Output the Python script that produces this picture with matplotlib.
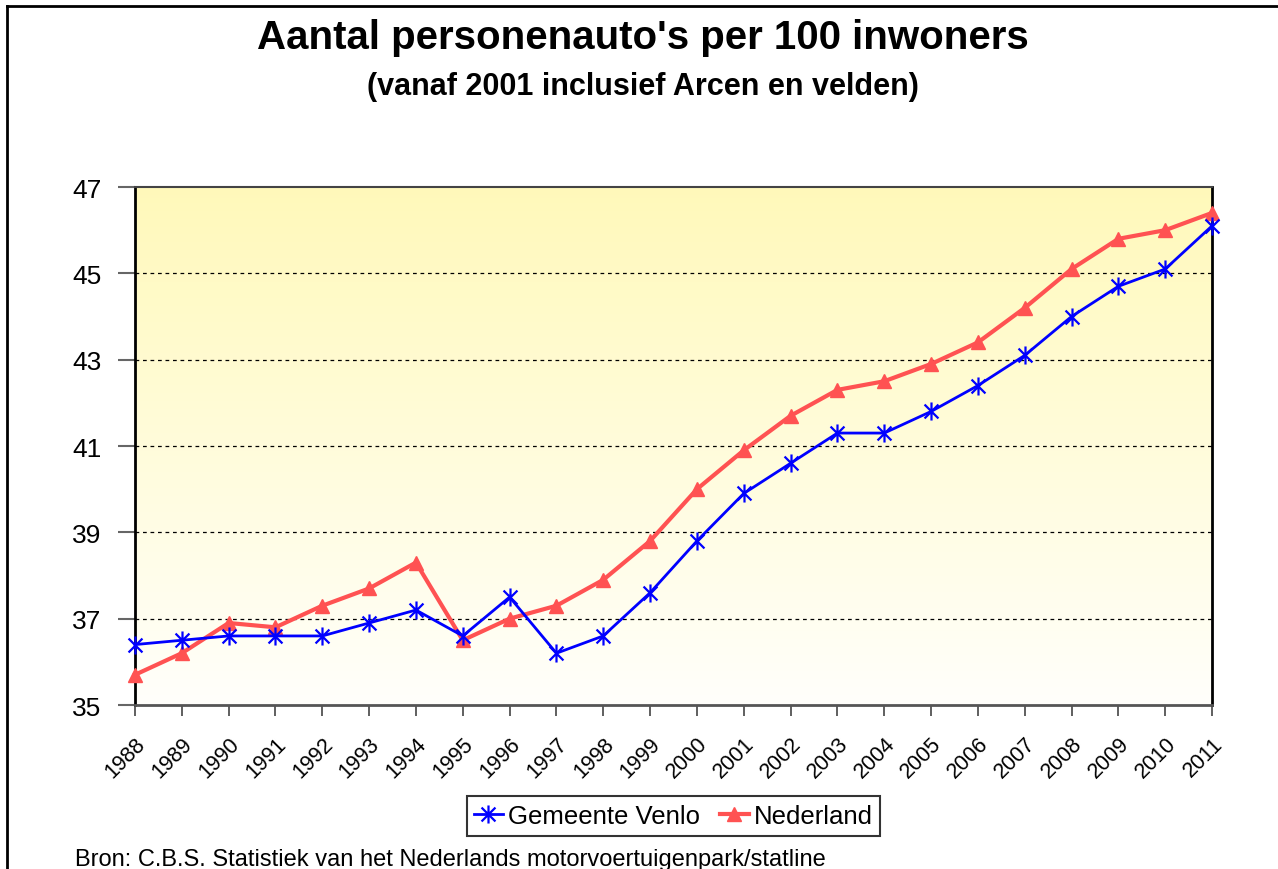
import numpy as np
import matplotlib.pyplot as plt
from matplotlib.path import Path
from matplotlib.lines import Line2D

plt.rcParams['font.family'] = ['Liberation Sans', 'DejaVu Sans']

years = [str(y) for y in range(1988, 2012)]
venlo = [36.4, 36.5, 36.6, 36.6, 36.6, 36.9, 37.2, 36.6, 37.5, 36.2, 36.6, 37.6,
         38.8, 39.9, 40.6, 41.3, 41.3, 41.8, 42.4, 43.1, 44.0, 44.7, 45.1, 46.1]
nederland = [35.7, 36.2, 36.9, 36.8, 37.3, 37.7, 38.3, 36.5, 37.0, 37.3, 37.9, 38.8,
             40.0, 40.9, 41.7, 42.3, 42.5, 42.9, 43.4, 44.2, 45.1, 45.8, 46.0, 46.4]
yticks = [35, 37, 39, 41, 43, 45, 47]

# excel style star marker: x with a vertical stroke
star = Path([(-1, -1), (1, 1), (-1, 1), (1, -1), (0, -1.3), (0, 1.3)],
            [Path.MOVETO, Path.LINETO, Path.MOVETO, Path.LINETO, Path.MOVETO, Path.LINETO])

fig = plt.figure(figsize=(12.78, 8.7), dpi=100)
ax = fig.add_axes([0.1056, 0.1885, 0.8428, 0.5954])

x = np.arange(len(years))

# yellow gradient background
grad = np.linspace(0, 1, 256).reshape(-1, 1)
top = np.array([1.0, 0.976, 0.73])
bot = np.array([1.0, 1.0, 0.985])
img = top * (1 - grad[..., None]) + bot * grad[..., None]
ax.imshow(img, extent=[0, len(years) - 1, 35, 47], aspect='auto', origin='upper', zorder=0)

for yv in yticks[1:-1]:
    ax.axhline(yv, color='black', lw=0.9, ls=(0, (3, 3)), zorder=1)

ax.plot(x, nederland, color='#FF5252', lw=3, marker='^', markersize=10,
        label='Nederland', zorder=3, clip_on=False)
ax.plot(x, venlo, color='#0000FF', lw=2, marker=star, markersize=13,
        markeredgewidth=1.6, markerfacecolor='none', label='Gemeente Venlo', zorder=4,
        clip_on=False)

ax.set_xlim(0, len(years) - 1)
ax.set_ylim(35, 47)
ax.set_yticks(yticks)
ax.set_yticklabels([str(v) for v in yticks], fontsize=19)
ax.set_xticks(x)
ax.set_xticklabels(years, fontsize=15.5, rotation=45, ha='right', rotation_mode='anchor')
ax.tick_params(axis='x', length=8, width=1.2, color='#444444', pad=12)
ax.tick_params(axis='y', length=12, width=1.5, color='#666666', pad=12)

ax.spines['left'].set_linewidth(2)
ax.spines['left'].set_color('black')
ax.spines['right'].set_linewidth(2)
ax.spines['right'].set_color('black')
ax.spines['bottom'].set_linewidth(2)
ax.spines['bottom'].set_color('#555555')
ax.spines['top'].set_linewidth(1.5)
ax.spines['top'].set_color('#444444')

fig.text(0.503, 0.956, "Aantal personenauto's per 100 inwoners", ha='center', va='center',
         fontsize=29, fontweight='bold')
fig.text(0.503, 0.900, "(vanaf 2001 inclusief Arcen en velden)", ha='center', va='center',
         fontsize=22, fontweight='bold')

handles, labels = ax.get_legend_handles_labels()
leg = fig.legend(handles[::-1], labels[::-1], loc='center', bbox_to_anchor=(0.527, 0.061),
                 ncol=2, fontsize=18.5, frameon=True, fancybox=False, edgecolor='black',
                 handlelength=1.1, handletextpad=0.2, columnspacing=0.8, borderpad=0.3)
leg.get_frame().set_linewidth(1.5)

fig.text(0.059, 0.011, "Bron: C.B.S. Statistiek van het Nederlands motorvoertuigenpark/statline",
         ha='left', va='center', fontsize=17)

# outer chart border (left and top)
fig.add_artist(Line2D([0.0055, 0.0055], [0, 0.992], transform=fig.transFigure, color='black', lw=2))
fig.add_artist(Line2D([0.0055, 1], [0.992, 0.992], transform=fig.transFigure, color='black', lw=2))

fig.savefig('out.png', dpi=100)
